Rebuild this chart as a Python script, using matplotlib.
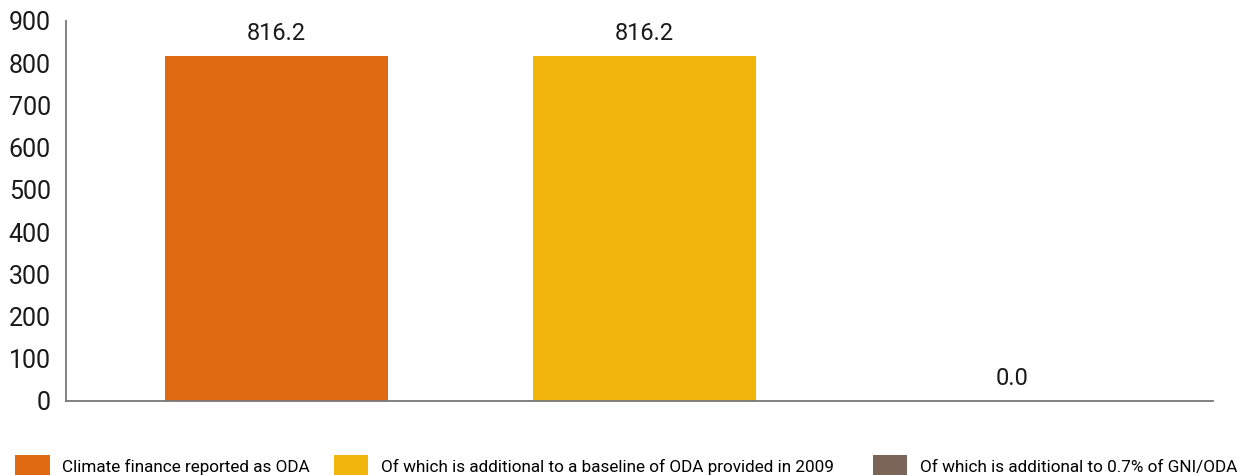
import matplotlib
matplotlib.use("Agg")
import matplotlib.pyplot as plt
from matplotlib.patches import Patch

plt.rcParams['font.family'] = ['Roboto', 'DejaVu Sans']

categories = ['Climate finance reported as ODA',
              'Of which is additional to a baseline of ODA provided in 2009',
              'Of which is additional to 0.7% of GNI/ODA']
values = [816.2, 816.2, 0.0]
colors = ['#E06A12', '#F2B50C', '#7A6558']
yticks = [0, 100, 200, 300, 400, 500, 600, 700, 800, 900]

fig = plt.figure(figsize=(12.48, 4.75), dpi=100)
ax = fig.add_axes([0.053, 0.156, 0.919, 0.800])

x = range(len(values))
bars = ax.bar(x, values, width=0.606, color=colors)

for xi, v in zip(x, values):
    ax.annotate(f"{v:.1f}", (xi, v), xytext=(0, 8), textcoords='offset points',
                ha='center', va='bottom', fontsize=17, color='#1a1a1a')

ax.set_xlim(-0.571, 2.546)
ax.set_ylim(0, 900)
ax.set_yticks(yticks)
ax.set_xticks([])
ax.tick_params(axis='y', length=0, pad=11, labelsize=18, labelcolor='#1a1a1a')
for s in ['top', 'right']:
    ax.spines[s].set_visible(False)
for s in ['left', 'bottom']:
    ax.spines[s].set_color('#777777')
    ax.spines[s].set_linewidth(1.3)

# one legend entry per swatch so each sits where the reference has it
legend_x = [0.0, 0.255, 0.687]
for c, lab, lx in zip(colors, categories, legend_x):
    fig.legend([Patch(facecolor=c, edgecolor='none')], [lab], loc='lower left',
               bbox_to_anchor=(lx, -0.04), frameon=False, fontsize=12.3,
               handlelength=2.0, handleheight=1.75, handletextpad=0.75)

fig.savefig('out.png', dpi=100)
